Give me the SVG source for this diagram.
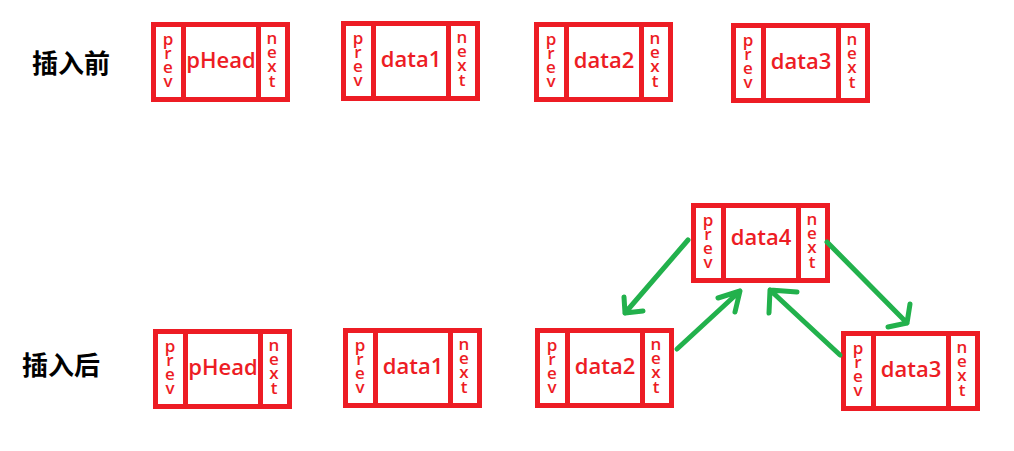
<svg xmlns="http://www.w3.org/2000/svg" width="1014" height="451" viewBox="0 0 1014 451">
<style>
.box{fill:#fff;stroke:#ED1C24;stroke-width:5}
.div{stroke:#ED1C24;stroke-width:5}
.lbl{font-family:"Open Sans","Liberation Sans",Arial,sans-serif;font-size:22px;font-weight:600;fill:#ED1C24;text-anchor:middle}
.let{font-family:"Open Sans","Liberation Sans",Arial,sans-serif;font-size:17px;font-weight:600;fill:#ED1C24;text-anchor:middle}
.title{font-family:"Noto Sans CJK SC",sans-serif;font-size:26px;font-weight:bold;fill:#000;text-anchor:middle}
.arr{fill:none;stroke:#22B14C;stroke-width:5;stroke-linecap:round;stroke-linejoin:round}
</style>
<defs>
<g id="cell">
<rect class="box" x="2.5" y="2.5" width="134" height="75"/>
<line class="div" x1="32.5" y1="2.5" x2="32.5" y2="77.5"/>
<line class="div" x1="107.5" y1="2.5" x2="107.5" y2="77.5"/>
<text class="let" x="17" y="23">p</text>
<text class="let" x="17" y="37">r</text>
<text class="let" x="17" y="51">e</text>
<text class="let" x="17" y="65">v</text>
<text class="let" x="121" y="22">n</text>
<text class="let" x="121" y="36">e</text>
<text class="let" x="121" y="50">x</text>
<text class="let" x="121" y="65">t</text>
</g>
</defs>
<text class="title" x="71" y="73">插入前</text>
<text class="title" x="61" y="375">插入后</text>
<g id="top-pHead" transform="translate(151,22)"><use href="#cell"/><text class="lbl" x="70" y="46">pHead</text></g>
<g id="top-data1" transform="translate(341,21)"><use href="#cell"/><text class="lbl" x="70" y="46">data1</text></g>
<g id="top-data2" transform="translate(534,22)"><use href="#cell"/><text class="lbl" x="70" y="46">data2</text></g>
<g id="top-data3" transform="translate(731,23)"><use href="#cell"/><text class="lbl" x="70" y="46">data3</text></g>
<g id="bot-pHead" transform="translate(153,329)"><use href="#cell"/><text class="lbl" x="70" y="46">pHead</text></g>
<g id="bot-data1" transform="translate(343,328)"><use href="#cell"/><text class="lbl" x="70" y="46">data1</text></g>
<g id="bot-data2" transform="translate(535,328)"><use href="#cell"/><text class="lbl" x="70" y="46">data2</text></g>
<g id="bot-data3" transform="translate(841,331)"><use href="#cell"/><text class="lbl" x="70" y="46">data3</text></g>
<g id="bot-data4" transform="translate(691,203)"><use href="#cell"/><text class="lbl" x="70" y="42">data4</text></g>
<g id="connectors">
<path class="arr" d="M688,240 L625,313 M624,297 L625,313 L643,311"/>
<path class="arr" d="M677,349 L740,291 M718,298 L740,291 L735,312"/>
<path class="arr" d="M840,355 L770,290 M797,292 L770,290 L769,313"/>
<path class="arr" d="M827,242 L907,323 M910,304 L907,323 L888,327"/>
</g>
</svg>
